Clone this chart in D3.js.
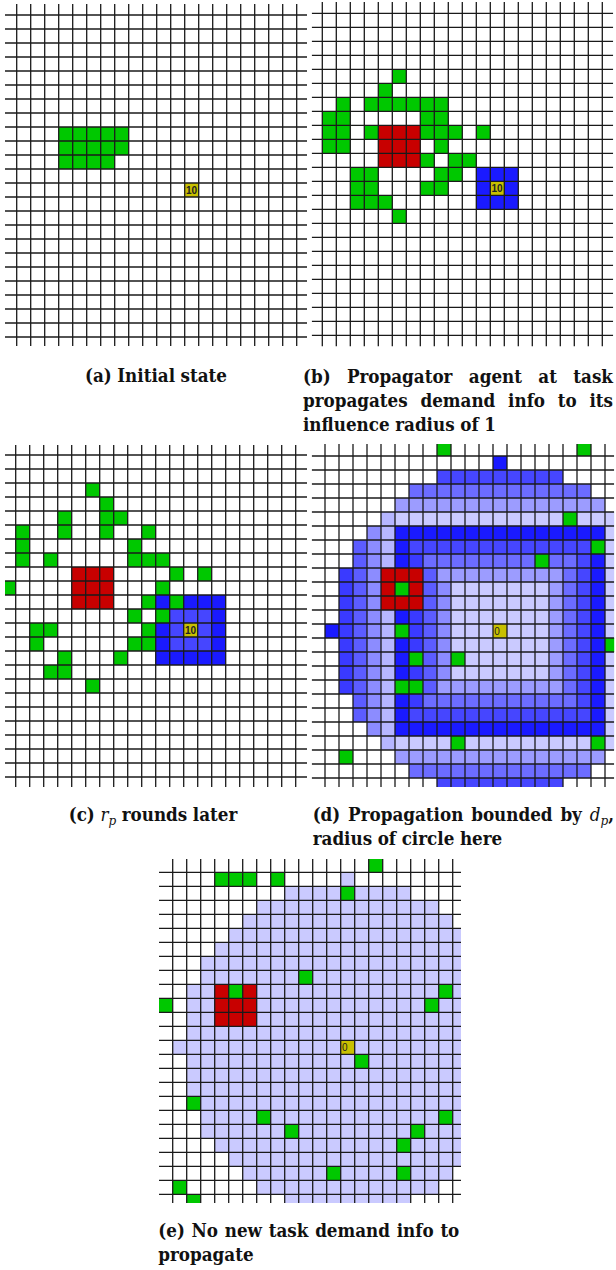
<!DOCTYPE html>
<html>
<head>
<meta charset="utf-8">
<script src="https://cdn.jsdelivr.net/npm/d3@7"></script>
<style>
  body { margin: 0; background: #fff; }
</style>
</head>
<body>
<div id="chart"></div>
<script>
'use strict';

// cell states, one string per grid row (row -1 .. 23), one char per column (col -1 .. 20)
// . empty, g agent, r red agent, y task, A..F blue demand shades (lowercase = darker left side)
const gridA = [
  "......................",
  "......................",
  "......................",
  "......................",
  "......................",
  "......................",
  "......................",
  "......................",
  "......................",
  "....ggggg.............",
  "....ggggg.............",
  "....gggg..............",
  "......................",
  ".............y........",
  "......................",
  "......................",
  "......................",
  "......................",
  "......................",
  "......................",
  "......................",
  "......................",
  "......................",
  "......................",
  "......................"
];

const gridB = [
  "......................",
  "......................",
  "......................",
  "......................",
  "......................",
  "......g...............",
  ".....g................",
  "..g.gggggg............",
  ".gg.....gg............",
  ".gg.grrrggg.g.........",
  ".gg..rrr.g............",
  ".....rrrg.gg..........",
  "...gg....gg.AAA.......",
  "...gg...gg..AyA.......",
  "...ggg......AAA.......",
  "......g...............",
  "......................",
  "......................",
  "......................",
  "......................",
  "......................",
  "......................",
  "......................",
  "......................",
  "......................"
];

const gridC = [
  "......................",
  "......................",
  "......................",
  "......g...............",
  ".......g..............",
  "....g..gg.............",
  ".g..g..g..g...........",
  ".g.......g............",
  ".g.g.....ggg..........",
  ".....rrr....g.g.......",
  "g....rrr...g..........",
  ".....rrr..gAgAAA......",
  ".........g.gBBBA......",
  "..gg......gAByBA......",
  "..g......ggABBBA......",
  "....g...g..AAAAA......",
  "...gg.................",
  "......g...............",
  "......................",
  "......................",
  "......................",
  "......................",
  "......................",
  "......................",
  "......................"
];

const gridD = [
  ".........g.........g..",
  ".............A........",
  ".........BBBBBBBBB....",
  ".......CCCCCCCCCCCCC..",
  "......DDDDDDDDDDDDDDD.",
  ".....EFFFFFFFFFFFFgFFF",
  "....dEAAAAAAAAAAAAAAAF",
  "...cdEABBBBBBBBBBBBBgF",
  "...cdEAbCCCCCCCCgCCBAF",
  "..bcdrrrcDDDDDDDDDCBAF",
  "..bcdrgrcdFFFFFFFDCBAF",
  "..bcdrrrcdFFFFFFFDCBAF",
  "..bcdEAbcdFFFFFFFDCBAF",
  ".AbcdEgbcdFFFyFFFDCBAF",
  "..bcdEAbcdFFFFFFFDCBAg",
  "..bcdEAgcdgFFFFFFDCBAF",
  "..bcdEAbcdFFFFFFFDCBAF",
  "..bcdEggcDDDDDDDDDCBAF",
  "...cdEAbCCCCCCCCCCCBAF",
  "...cdEABBBBBBBBBBBBBAF",
  "....dEAAAAAAAAAAAAAAAF",
  ".....EFFFFgFFFFFFFFFgF",
  "..g...DDDDDDDDDDDDDDD.",
  ".......CCCCCCCCCCCCC..",
  ".........BBBBBBBBB...."
];

const gridE = [
  "...............g......",
  "....ggg.g....F........",
  ".........FFFFgFFFF....",
  ".......FFFFFFFFFFFFF..",
  "......FFFFFFFFFFFFFFF.",
  ".....FFFFFFFFFFFFFFFFF",
  "....FFFFFFFFFFFFFFFFFF",
  "...FFFFFFFFFFFFFFFFFFF",
  "...FFFFFFFgFFFFFFFFFFF",
  "..FFrgrFFFFFFFFFFFFFgF",
  "g.FFrrrFFFFFFFFFFFFgFF",
  "..FFrrrFFFFFFFFFFFFFFF",
  "..FFFFFFFFFFFFFFFFFFFF",
  ".FFFFFFFFFFFFyFFFFFFFF",
  "..FFFFFFFFFFFFgFFFFFFF",
  "..FFFFFFFFFFFFFFFFFFFF",
  "..FFFFFFFFFFFFFFFFFFFF",
  "..gFFFFFFFFFFFFFFFFFFF",
  "...FFFFgFFFFFFFFFFFFgF",
  "...FFFFFFgFFFFFFFFgFFF",
  "....FFFFFFFFFFFFFgFFFF",
  ".....FFFFFFFFFFFFFFFFF",
  "......FFFFFFgFFFFgFFF.",
  ".g.....FFFFFFFFFFFFF..",
  "..g......FFFFFFFFF...."
];

const taskLabels = ["10", "10", "10", "0", "0"];

const captionA = ["(a) Initial state"];
const captionB = ["(b) Propagator agent at task", "propagates demand info to its", "influence radius of 1"];
const captionC = ["(c) $r_p$ rounds later"];
const captionD = ["(d) Propagation bounded by $d_p$,", "radius of circle here"];
const captionE = ["(e) No new task demand info to", "propagate"];

const palette = {
  g: "#00c800", r: "#c80000", y: "#c8c000",
  A: "#1a1aff", b: "#3a3aff", B: "#4646ff", c: "#5c5cff", C: "#6c6cff",
  d: "#8c8cff", D: "#9c9cff", E: "#b6b6ff", F: "#cacaff"
};

// layout of the five panels: clip box [x, y, w, h], first grid line [x, y]
const panels = [
  { grid: gridA, label: taskLabels[0], bold: true,  clip: [5, 4, 302, 342],       origin: [16.7, 15],
    caption: captionA, cap: { x0: 5, x1: 307, ys: [382], mode: "center" } },
  { grid: gridB, label: taskLabels[1], bold: true,  clip: [311.7, 2, 301.5, 344.5], origin: [322.3, 13.3],
    caption: captionB, cap: { x0: 303, x1: 613, ys: [383, 407, 431], mode: "justify" } },
  { grid: gridC, label: taskLabels[2], bold: true,  clip: [5, 445, 302, 342],     origin: [15.7, 455],
    caption: captionC, cap: { x0: 5, x1: 301, ys: [821], mode: "center" } },
  { grid: gridD, label: taskLabels[3], bold: false, clip: [311.7, 444, 302.5, 343], origin: [325, 456],
    caption: captionD, cap: { x0: 312.7, x1: 614, ys: [821, 845], mode: "justify" } },
  { grid: gridE, label: taskLabels[4], bold: false, clip: [159, 859, 302, 344],   origin: [172.7, 872.3],
    caption: captionE, cap: { x0: 158.3, x1: 459.3, ys: [1237, 1261], mode: "justify" } }
];

const svg = d3.select("#chart").append("svg")
  .attr("width", 616)
  .attr("height", 1270)
  .style("background", "#fff");
const defs = svg.append("defs");

panels.forEach(function (p, k) {
  const [cx, cy, cw, ch] = p.clip;
  defs.append("clipPath").attr("id", "clip" + k)
    .append("rect").attr("x", cx).attr("y", cy).attr("width", cw).attr("height", ch);

  var x = d3.scaleLinear().domain([0, 20]).range([p.origin[0], p.origin[0] + 280]);
  var y = d3.scaleLinear().domain([0, 23]).range([p.origin[1], p.origin[1] + 322]);

  var g = svg.append("g").attr("clip-path", "url(#clip" + k + ")");

  var cells = [];
  p.grid.forEach(function (row, ri) {
    row.split("").forEach(function (v, ci) {
      if (v !== ".") cells.push({ r: ri - 1, c: ci - 1, v: v });
    });
  });

  g.selectAll("rect.cell")
    .data(cells)
    .join("rect")
      .attr("class", "cell")
      .attr("x", d => x(d.c))
      .attr("y", d => y(d.r))
      .attr("width", x(1) - x(0))
      .attr("height", y(1) - y(0))
      .attr("fill", d => palette[d.v]);

  // grid lines
  g.selectAll("line.v")
    .data(d3.range(21))
    .join("line")
      .attr("class", "v")
      .attr("x1", d => x(d)).attr("x2", d => x(d))
      .attr("y1", cy).attr("y2", cy + ch)
      .attr("stroke", "#1a1a1a").attr("stroke-width", 1.3);
  g.selectAll("line.h")
    .data(d3.range(24))
    .join("line")
      .attr("class", "h")
      .attr("y1", d => y(d)).attr("y2", d => y(d))
      .attr("x1", cx).attr("x2", cx + cw)
      .attr("stroke", "#1a1a1a").attr("stroke-width", 1.3);

  // task label
  var task = cells.find(d => d.v === "y");
  g.append("text")
    .attr("x", x(task.c) + 1.2)
    .attr("y", y(task.r) + 11)
    .attr("font-family", "Liberation Sans, Arial, sans-serif")
    .attr("font-size", 10)
    .attr("font-weight", p.bold ? "bold" : "normal")
    .attr("fill", "#222")
    .text(p.label);
});

// captions
var capFont = "DejaVu Serif Condensed, DejaVu Serif, serif";
var probe = svg.append("text").attr("font-family", capFont).attr("font-weight", "bold")
  .attr("font-size", 100).text("(a)Initialstate");
var capSize = 100 * 131 / probe.node().getComputedTextLength();
probe.remove();
var spaceW = capSize * 0.3;

var capG = svg.append("g")
  .attr("font-family", capFont)
  .attr("font-weight", "bold")
  .attr("font-size", capSize)
  .attr("fill", "#111");

function addWord(parent, word, yy) {
  var t = parent.append("text").attr("y", yy);
  var m = word.match(/^(.*)\$(\w)_(\w)\$(.*)$/);
  if (m) {
    if (m[1]) t.append("tspan").text(m[1]);
    t.append("tspan").attr("font-style", "italic").attr("font-weight", "normal").text(m[2]);
    t.append("tspan").attr("font-style", "italic").attr("font-weight", "normal")
      .attr("font-size", capSize * 0.72).attr("dy", capSize * 0.22).text(m[3]);
    if (m[4]) t.append("tspan").attr("dy", -capSize * 0.22).text(m[4]);
  } else {
    t.text(word);
  }
  return t;
}

function layoutLine(line, c, yy, last) {
  var words = line.split(" ");
  var texts = words.map(w => addWord(capG, w, yy));
  var widths = texts.map(t => t.node().getComputedTextLength());
  var total = d3.sum(widths);
  var gap = spaceW, start = c.x0;
  if (c.mode === "justify" && !last) gap = (c.x1 - c.x0 - total) / (words.length - 1);
  if (c.mode === "center") start = (c.x0 + c.x1) / 2 - (total + gap * (words.length - 1)) / 2;
  var cur = start;
  texts.forEach(function (t, i) {
    t.attr("x", cur);
    cur += widths[i] + gap;
  });
}

panels.forEach(function (p) {
  p.caption.forEach(function (line, i) {
    layoutLine(line, p.cap, p.cap.ys[i], i === p.caption.length - 1);
  });
});
</script>
</body>
</html>
